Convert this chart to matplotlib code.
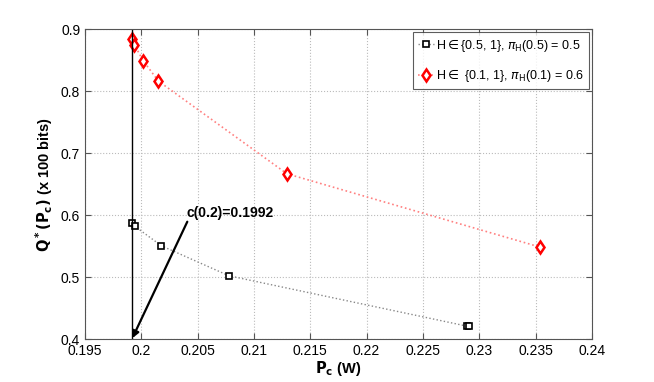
import matplotlib
matplotlib.use("Agg")
import matplotlib.pyplot as plt

plt.rcParams['font.family'] = ['Liberation Sans', 'DejaVu Sans']

# H in {0.5, 1}, pi_H(0.5) = 0.5
pc_a = [0.19913, 0.19944, 0.20179, 0.20777, 0.22890, 0.22913]
q_a = [0.5878, 0.5818, 0.5505, 0.5023, 0.4211, 0.4211]

# H in {0.1, 1}, pi_H(0.1) = 0.6
pc_b = [0.19913, 0.19938, 0.20018, 0.20152, 0.21293, 0.23538]
q_b = [0.8838, 0.8745, 0.8485, 0.8160, 0.6667, 0.5486]

c_val = 0.1992
xticks = [0.195, 0.2, 0.205, 0.21, 0.215, 0.22, 0.225, 0.23, 0.235, 0.24]
xtick_labels = ["0.195", "0.2", "0.205", "0.21", "0.215", "0.22", "0.225", "0.23", "0.235", "0.24"]
yticks = [0.4, 0.5, 0.6, 0.7, 0.8, 0.9]

fig = plt.figure(figsize=(6.54, 3.82), dpi=100)
ax = fig.add_axes([0.130, 0.112, 0.775, 0.812])

ax.plot(pc_a, q_a, linestyle=':', color='#888888', linewidth=1.0,
        marker='s', markersize=4.5, markerfacecolor='white',
        markeredgecolor='black', markeredgewidth=1.2,
        label=r'H$\in${0.5, 1}, $\pi_{\rm H}$(0.5) = 0.5')
ax.plot(pc_b, q_b, linestyle=':', color='#ff8080', linewidth=1.2,
        marker='d', markersize=6, markerfacecolor='white',
        markeredgecolor='red', markeredgewidth=1.8,
        label=r'H$\in$ {0.1, 1}, $\pi_{\rm H}$(0.1) = 0.6')

# vertical line at c(0.2)
ax.plot([c_val, c_val], [0.4, 0.9], color='black', linewidth=1.0)

ax.text(0.20403, 0.603, 'c(0.2)=0.1992', fontsize=10, fontweight='bold',
        va='center', ha='left')
ax.annotate('', xy=(c_val, 0.4016), xytext=(0.20408, 0.5894),
            arrowprops=dict(arrowstyle='-|>', color='black', lw=1.6,
                            shrinkA=0, shrinkB=0, mutation_scale=10))

ax.set_xlim(0.195, 0.24)
ax.set_ylim(0.4, 0.9)
ax.set_xticks(xticks)
ax.set_xticklabels(xtick_labels)
ax.set_yticks(yticks)
ax.grid(True, linestyle=':', color='#bbbbbb', linewidth=0.8)
ax.tick_params(direction='in', top=True, right=True, labelsize=10, length=4, color='#555555')
for s in ax.spines.values():
    s.set_color('#555555')

ax.set_xlabel(r'$\mathbf{P_c}$ (W)', fontsize=10.5, fontweight='bold', labelpad=1)
ax.set_ylabel(r'$\mathbf{Q^*(P_c)}$ (x 100 bits)', fontsize=10.5, fontweight='bold', labelpad=4)

leg = ax.legend(loc='upper right', fontsize=9, frameon=True, fancybox=False,
                borderaxespad=0.2, handlelength=1.3, handletextpad=0.2,
                labelspacing=1.1, borderpad=0.4)
leg.get_frame().set_edgecolor('#333333')
leg.get_frame().set_linewidth(0.8)

fig.savefig('out.png', dpi=100)
